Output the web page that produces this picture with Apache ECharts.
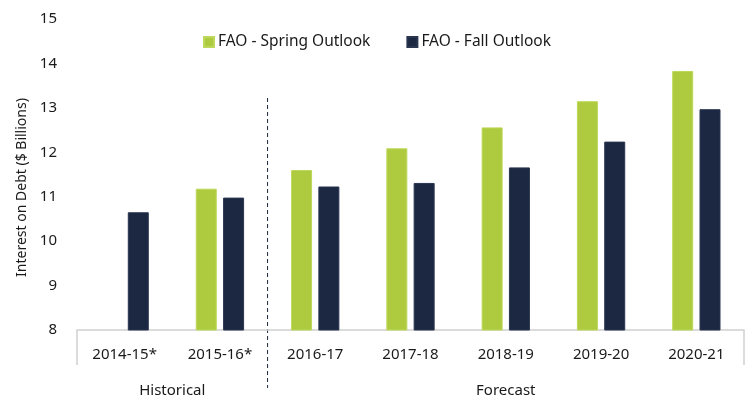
<!DOCTYPE html>
<html>
<head>
<meta charset="utf-8">
<script src="https://cdn.jsdelivr.net/npm/echarts@6/dist/echarts.min.js"></script>
<style>
  html, body { margin: 0; padding: 0; background: #fff; }
  #chart { width: 750px; height: 404px; }
</style>
</head>
<body>
<div id="chart"></div>
<script>
// data
var categories = ['2014-15*', '2015-16*', '2016-17', '2017-18', '2018-19', '2019-20', '2020-21'];
var springOutlook = [null, 11.18, 11.6, 12.09, 12.56, 13.15, 13.83];
var fallOutlook = [10.65, 10.98, 11.23, 11.31, 11.66, 12.24, 12.97];
var groupNames = ['Historical', 'Forecast'];
var groupFirst = [0, 2];
var groupLast = [1, 6];

var font = 'Noto Sans';
var textColor = '#1a1a1a';

var myChart = echarts.init(document.getElementById('chart'));

var option = {
    backgroundColor: '#fff',
    animation: false,
    textStyle: { fontFamily: font },
    legend: {
        top: 29,
        left: 198,
        itemWidth: 10,
        itemHeight: 10,
        itemGap: 36,
        icon: 'rect',
        textStyle: { fontFamily: font, fontSize: 15.5, color: textColor, padding: [0, 0, 0, -1] },
        data: ['FAO - Spring Outlook', 'FAO - Fall Outlook']
    },
    grid: { left: 77, right: 6, top: 19, bottom: 74 },
    xAxis: {
        type: 'category',
        data: categories,
        axisLine: { lineStyle: { color: '#d0d0d0', width: 1.5 } },
        axisTick: { show: false },
        axisLabel: { fontFamily: font, fontSize: 15, color: textColor, margin: 17 }
    },
    yAxis: {
        type: 'value',
        min: 8,
        max: 15,
        interval: 1,
        name: 'Interest on Debt ($ Billions)',
        nameLocation: 'middle',
        nameGap: 44,
        nameTextStyle: { fontFamily: font, fontSize: 14, color: textColor, padding: [0, 0, 0, -26] },
        axisLine: { show: false },
        axisTick: { show: false },
        splitLine: { show: false },
        axisLabel: { fontFamily: font, fontSize: 15, color: textColor, margin: 20 }
    },
    series: [
        {
            name: 'FAO - Spring Outlook',
            type: 'bar',
            data: springOutlook,
            barWidth: 21,
            barGap: '30%',
            itemStyle: { color: '#aecb3f', borderColor: '#bdd85a', borderWidth: 1 }
        },
        {
            name: 'FAO - Fall Outlook',
            type: 'bar',
            data: fallOutlook,
            barWidth: 21,
            barGap: '30%',
            itemStyle: { color: '#1c2841', borderColor: '#2a3550', borderWidth: 1 }
        }
    ]
};
myChart.setOption(option);

// group brackets, separator and group labels from the category scale
var centers = categories.map(function (c) {
    return myChart.convertToPixel({ xAxisIndex: 0 }, c);
});
var band = centers[1] - centers[0];
var axisY = myChart.convertToPixel({ yAxisIndex: 0 }, 8);
var graphics = [];
var leftEdge = centers[groupFirst[0]] - band / 2;
var rightEdge = centers[groupLast[groupLast.length - 1]] + band / 2;
[leftEdge, rightEdge].forEach(function (x) {
    graphics.push({
        type: 'line',
        shape: { x1: x, y1: axisY, x2: x, y2: axisY + 35 },
        style: { stroke: '#d0d0d0', lineWidth: 1.5 }
    });
});
for (var g = 1; g < groupNames.length; g++) {
    var sx = (centers[groupLast[g - 1]] + centers[groupFirst[g]]) / 2;
    graphics.push({
        type: 'line',
        shape: { x1: sx, y1: 98, x2: sx, y2: axisY + 58 },
        style: { stroke: '#1c2841', lineWidth: 1, lineDash: [4, 3] }
    });
}
groupNames.forEach(function (name, i) {
    var cx = (centers[groupFirst[i]] + centers[groupLast[i]]) / 2;
    graphics.push({
        type: 'text',
        x: cx,
        y: axisY + 61,
        style: {
            text: name,
            font: '15px "' + font + '"',
            fill: textColor,
            align: 'center',
            verticalAlign: 'middle'
        }
    });
});
myChart.setOption({ graphic: graphics });
</script>
</body>
</html>
